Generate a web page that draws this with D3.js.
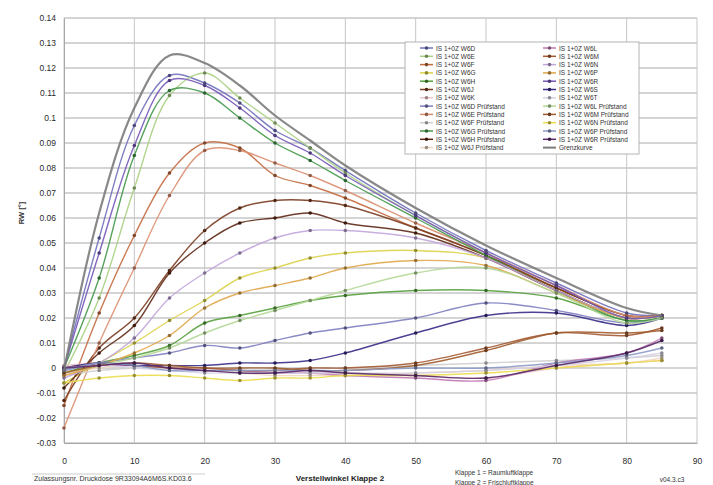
<!DOCTYPE html>
<html>
<head>
<meta charset="utf-8">
<script src="https://cdn.jsdelivr.net/npm/d3@7"></script>
<style>
  body { margin: 0; background: #fff; }
  svg { display: block; font-family: "Liberation Sans", Arial, sans-serif; }
</style>
</head>
<body>
<svg id="chart" width="713" height="485"></svg>
<script>
// x positions of the measured points (Verstellwinkel Klappe 2)
var angles = [0, 5, 10, 15, 20, 25, 30, 35, 40, 50, 60, 70, 80, 85];

var yTicks = [-0.03, -0.02, -0.01, 0, 0.01, 0.02, 0.03, 0.04, 0.05, 0.06, 0.07, 0.08, 0.09, 0.1, 0.11, 0.12, 0.13, 0.14];
var xTicks = [0, 10, 20, 30, 40, 50, 60, 70, 80, 90];

// legend order: left column first, then right column
var seriesNames = [
  "IS 1+0Z W6D", "IS 1+0Z W6E", "IS 1+0Z W6F", "IS 1+0Z W6G", "IS 1+0Z W6H", "IS 1+0Z W6J", "IS 1+0Z W6K",
  "IS 1+0Z W6D Prüfstand", "IS 1+0Z W6E Prüfstand", "IS 1+0Z W6F Prüfstand", "IS 1+0Z W6G Prüfstand", "IS 1+0Z W6H Prüfstand", "IS 1+0Z W6J Prüfstand",
  "IS 1+0Z W6L", "IS 1+0Z W6M", "IS 1+0Z W6N", "IS 1+0Z W6P", "IS 1+0Z W6R", "IS 1+0Z W6S", "IS 1+0Z W6T",
  "IS 1+0Z W6L Prüfstand", "IS 1+0Z W6M Prüfstand", "IS 1+0Z W6N Prüfstand", "IS 1+0Z W6P Prüfstand", "IS 1+0Z W6R Prüfstand",
  "Grenzkurve"
];

var seriesColors = [
  "#7070bc", "#a8d082", "#c46c40", "#ddd24a", "#55a03c", "#7a3c20", "#eec6ce",
  "#7e7ec0", "#dc8e70", "#cfcfcf", "#44984a", "#5e2816", "#f0d8c2",
  "#c078b2", "#a45a32", "#c2a6dc", "#e0a64a", "#7458b8", "#382c86", "#d6d0e4",
  "#b4d896", "#a05c2e", "#ecdc4c", "#8c9ac6", "#582a6a",
  "#7c7c7c"
];

var seriesValues = [
  [0, 0.052, 0.097, 0.117, 0.114, 0.106, 0.095, 0.088, 0.079, 0.062, 0.047, 0.034, 0.022, 0.021],
  [-0.002, 0.028, 0.072, 0.109, 0.118, 0.108, 0.098, 0.088, 0.078, 0.061, 0.046, 0.032, 0.021, 0.020],
  [-0.015, 0.022, 0.053, 0.078, 0.090, 0.088, 0.077, 0.073, 0.068, 0.056, 0.045, 0.032, 0.021, 0.021],
  [-0.006, 0.002, 0.010, 0.019, 0.027, 0.036, 0.040, 0.044, 0.046, 0.047, 0.044, 0.031, 0.020, 0.021],
  [-0.002, 0.002, 0.005, 0.009, 0.018, 0.021, 0.024, 0.027, 0.029, 0.031, 0.031, 0.028, 0.019, 0.020],
  [-0.013, 0.008, 0.020, 0.039, 0.055, 0.064, 0.067, 0.067, 0.065, 0.056, 0.045, 0.032, 0.021, 0.021],
  [0.001, 0.002, 0.001, 0.000, 0.000, -0.001, -0.001, -0.002, -0.002, -0.003, -0.004, 0.000, 0.002, 0.003],
  [-0.001, 0.002, 0.004, 0.006, 0.009, 0.008, 0.011, 0.014, 0.016, 0.020, 0.026, 0.023, 0.018, 0.020],
  [-0.024, 0.010, 0.040, 0.069, 0.087, 0.087, 0.082, 0.077, 0.071, 0.058, 0.046, 0.033, 0.021, 0.021],
  [-0.003, -0.001, 0.000, 0.000, -0.001, -0.001, -0.001, 0.000, 0.000, 0.001, 0.002, 0.003, 0.004, 0.005],
  [0, 0.036, 0.085, 0.111, 0.110, 0.100, 0.090, 0.083, 0.075, 0.060, 0.045, 0.031, 0.019, 0.020],
  [-0.008, 0.006, 0.017, 0.038, 0.050, 0.058, 0.060, 0.062, 0.058, 0.054, 0.044, 0.031, 0.020, 0.021],
  [-0.002, 0.000, 0.001, 0.000, -0.001, -0.002, -0.003, -0.003, -0.003, -0.002, -0.001, 0.001, 0.002, 0.004],
  [0, 0.001, 0.001, 0.000, -0.001, -0.001, -0.002, -0.002, -0.003, -0.004, -0.005, 0.002, 0.006, 0.012],
  [0, 0.002, 0.001, 0.000, 0.000, -0.001, -0.001, 0.000, 0.000, 0.002, 0.008, 0.014, 0.013, 0.016],
  [-0.004, 0.002, 0.012, 0.028, 0.038, 0.046, 0.052, 0.055, 0.055, 0.052, 0.044, 0.031, 0.020, 0.021],
  [-0.003, 0.001, 0.006, 0.013, 0.024, 0.030, 0.033, 0.036, 0.040, 0.043, 0.041, 0.030, 0.020, 0.021],
  [0, 0.046, 0.089, 0.115, 0.113, 0.104, 0.093, 0.086, 0.077, 0.061, 0.046, 0.033, 0.020, 0.021],
  [0, 0.002, 0.001, 0.001, 0.001, 0.002, 0.002, 0.003, 0.006, 0.014, 0.021, 0.022, 0.017, 0.020],
  [0, 0.001, 0.000, -0.001, -0.002, -0.002, -0.002, -0.002, -0.002, -0.002, -0.001, 0.001, 0.004, 0.006],
  [-0.002, 0.001, 0.004, 0.008, 0.014, 0.019, 0.023, 0.027, 0.031, 0.038, 0.040, 0.030, 0.018, 0.020],
  [-0.002, 0.001, 0.002, 0.001, 0.000, 0.000, 0.000, -0.001, -0.001, 0.001, 0.007, 0.014, 0.014, 0.015],
  [-0.006, -0.004, -0.003, -0.003, -0.004, -0.005, -0.004, -0.004, -0.003, -0.003, -0.002, 0.000, 0.002, 0.003],
  [-0.001, 0.002, 0.001, -0.001, -0.001, -0.001, -0.001, -0.001, -0.001, 0.000, 0.000, 0.002, 0.005, 0.008],
  [0, 0.001, 0.002, 0.000, -0.001, -0.002, -0.002, -0.001, -0.002, -0.003, -0.004, 0.001, 0.006, 0.011],
  [-0.001, 0.062, 0.104, 0.125, 0.122, 0.113, 0.101, 0.091, 0.081, 0.064, 0.049, 0.036, 0.024, 0.021]
];

var svg = d3.select("#chart");

var margins = { top: 18, bottom: 42, left: 64, right: 16 };
var width = 713 - margins.left - margins.right;
var height = 485 - margins.top - margins.bottom;

var x = d3.scaleLinear().domain([0, 90]).range([margins.left, margins.left + width]);
var y = d3.scaleLinear().domain([-0.03, 0.14]).range([margins.top + height, margins.top]);

// grid
var grid = svg.append("g");
grid.selectAll("line.h").data(yTicks).enter().append("line")
    .attr("x1", x(0)).attr("x2", x(90))
    .attr("y1", d => y(d)).attr("y2", d => y(d))
    .attr("stroke", "#c6c6c6")
    .attr("stroke-width", 1.3);
grid.selectAll("line.v").data(xTicks).enter().append("line")
    .attr("x1", d => x(d)).attr("x2", d => x(d))
    .attr("y1", y(0.14)).attr("y2", y(-0.03))
    .attr("stroke", "#c6c6c6")
    .attr("stroke-width", 1);

// axes labels
var yAxis = d3.axisLeft(y).tickValues(yTicks).tickSize(0).tickPadding(8)
    .tickFormat(d => String(+d.toFixed(2)));
svg.append("g").attr("transform", "translate(" + x(0) + ",0)").call(yAxis)
    .call(g => g.select(".domain").attr("stroke", "#a8a8a8"))
    .selectAll("text").style("font-size", "8.5px").attr("fill", "#2a2a2a");

var xAxis = d3.axisBottom(x).tickValues(xTicks).tickSize(0).tickPadding(15);
svg.append("g").attr("transform", "translate(0," + y(-0.03) + ")").call(xAxis)
    .call(g => g.select(".domain").attr("stroke", "#a8a8a8"))
    .selectAll("text").style("font-size", "8.5px").attr("fill", "#2a2a2a");

// y title
svg.append("text")
    .attr("transform", "translate(24," + y(0.062) + ") rotate(-90)")
    .attr("text-anchor", "middle")
    .style("font-size", "7.5px")
    .style("font-weight", "700")
    .attr("fill", "#333")
    .text("RW [°]");

// lines
var line = d3.line()
    .x((d, i) => x(angles[i]))
    .y(d => y(d))
    .curve(d3.curveCatmullRom.alpha(0.5));

var plot = svg.append("g");
seriesValues.forEach(function (vals, k) {
    var col = seriesColors[k];
    var isLimit = k === seriesValues.length - 1;
    plot.append("path")
        .attr("d", line(vals))
        .attr("fill", "none")
        .attr("stroke", col)
        .attr("stroke-width", isLimit ? 2.2 : 1.4)
        .attr("stroke-opacity", 0.9);
    if (!isLimit) {
        plot.selectAll(null).data(vals).enter().append("circle")
            .attr("cx", (d, i) => x(angles[i]))
            .attr("cy", d => y(d))
            .attr("r", 1.8)
            .attr("fill", d3.color(col).darker(1.2));
    }
});

// legend
var lg = svg.append("g");
lg.append("rect")
    .attr("x", 405).attr("y", 42).attr("width", 234).attr("height", 112)
    .attr("fill", "#fff").attr("stroke", "#b4b4b4");
seriesNames.forEach(function (name, k) {
    var col = k < 13 ? 0 : 1;
    var row = k < 13 ? k : k - 13;
    var lx = col ? 543 : 420;
    var ly = 48 + row * 8.3;
    var c = seriesColors[k];
    var isLimit = k === seriesNames.length - 1;
    lg.append("line")
        .attr("x1", lx).attr("x2", lx + 13).attr("y1", ly).attr("y2", ly)
        .attr("stroke", c).attr("stroke-width", isLimit ? 2 : 1.5);
    if (!isLimit) {
        lg.append("circle").attr("cx", lx + 6.5).attr("cy", ly).attr("r", 1.8)
            .attr("fill", d3.color(c).darker(1.2));
    }
    lg.append("text")
        .attr("x", lx + 16).attr("y", ly + 2.5)
        .style("font-size", "6.5px")
        .attr("fill", "#333")
        .text(name);
});

// footer texts
svg.append("text").attr("x", 34).attr("y", 481)
    .style("font-size", "7px").attr("fill", "#333")
    .text("Zulassungsnr. Druckdose 9R33094A6M6S.KD03.6");
svg.append("line").attr("x1", 32).attr("x2", 205).attr("y1", 474).attr("y2", 474)
    .attr("stroke", "#ccc");
svg.append("text").attr("x", 340).attr("y", 481)
    .attr("text-anchor", "middle")
    .style("font-size", "8px").style("font-weight", "700").attr("fill", "#222")
    .text("Verstellwinkel Klappe 2");
svg.append("text").attr("x", 455).attr("y", 475)
    .style("font-size", "6.5px").attr("fill", "#333")
    .text("Klappe 1 = Raumluftklappe");
svg.append("text").attr("x", 455).attr("y", 485)
    .style("font-size", "6.5px").attr("fill", "#333")
    .text("Klappe 2 = Frischluftklappe");
svg.append("text").attr("x", 672).attr("y", 482)
    .attr("text-anchor", "middle")
    .style("font-size", "6.5px").attr("fill", "#333")
    .text("v04.3.c3");
</script>
</body>
</html>
